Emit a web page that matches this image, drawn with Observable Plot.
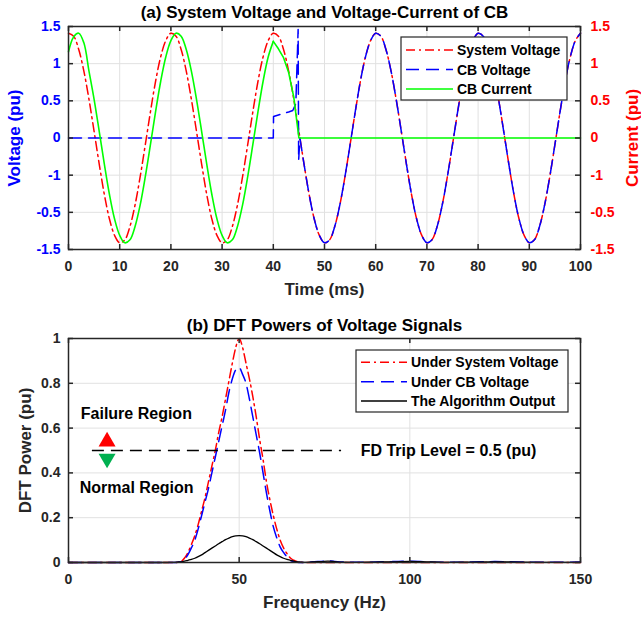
<!DOCTYPE html>
<html><head><meta charset="utf-8">
<script src="https://cdn.jsdelivr.net/npm/d3@7"></script>
<script src="https://cdn.jsdelivr.net/npm/@observablehq/plot@0.6"></script>
<style>
html,body{margin:0;padding:0;background:#fff;}
#chart{position:relative;width:641px;height:618px;overflow:hidden;background:#fff;}
#chart svg{position:absolute;left:0;}
</style></head><body><div id="chart"></div>
<script>
// ---------------- Panel (a) data ----------------
const titleA = "(a) System Voltage and Voltage-Current of CB";
const xLabelA = "Time (ms)";
const yLabelLeftA = "Voltage (pu)";
const yLabelRightA = "Current (pu)";
const xTicksA = [0, 10, 20, 30, 40, 50, 60, 70, 80, 90, 100];
const yTicksA = [1.5, 1, 0.5, 0, -0.5, -1, -1.5];
const yTickLabelsA = ["1.5", "1", "0.5", "0", "-1", "-0.5", "-1.5"];

const timeMs = d3.range(0, 101, 1);
const systemVoltage = [
  1.41,1.37,1.19,0.90,0.52,0.09,-0.35,-0.76,-1.09,-1.31,-1.41,-1.37,-1.19,-0.90,-0.52,-0.09,0.35,0.76,1.09,1.31,
  1.41,1.37,1.19,0.90,0.52,0.09,-0.35,-0.76,-1.09,-1.31,-1.41,-1.37,-1.19,-0.90,-0.52,-0.09,0.35,0.76,1.09,1.31,
  1.41,1.37,1.19,0.90,0.52,0.09,-0.35,-0.76,-1.09,-1.31,-1.41,-1.37,-1.19,-0.90,-0.52,-0.09,0.35,0.76,1.09,1.31,
  1.41,1.37,1.19,0.90,0.52,0.09,-0.35,-0.76,-1.09,-1.31,-1.41,-1.37,-1.19,-0.90,-0.52,-0.09,0.35,0.76,1.09,1.31,
  1.41,1.37,1.19,0.90,0.52,0.09,-0.35,-0.76,-1.09,-1.31,-1.41,-1.37,-1.19,-0.90,-0.52,-0.09,0.35,0.76,1.09,1.31,
  1.41
];

const cbVoltageTime = [0, 40, 40.05, 41, 42, 43, 43.8, 44.4, 44.85, 44.95, 45.2].concat(d3.range(46, 101, 1));
const cbVoltage = [
  0, 0, 0.29, 0.31, 0.33, 0.35, 0.37, 0.46, 1.46, -0.30, 0.0,
  -0.35,-0.76,-1.09,-1.31,-1.41,-1.37,-1.19,-0.90,-0.52,-0.09,0.35,0.76,1.09,1.31,
  1.41,1.37,1.19,0.90,0.52,0.09,-0.35,-0.76,-1.09,-1.31,-1.41,-1.37,-1.19,-0.90,-0.52,-0.09,0.35,0.76,1.09,1.31,
  1.41,1.37,1.19,0.90,0.52,0.09,-0.35,-0.76,-1.09,-1.31,-1.41,-1.37,-1.19,-0.90,-0.52,-0.09,0.35,0.76,1.09,1.31,
  1.41
];

const cbCurrentTime = d3.range(0, 41, 1).concat([41, 42, 43, 44, 44.6, 45, 100]);
const cbCurrent = [
  1.16,1.36,1.41,1.28,0.90,0.52,0.09,-0.35,-0.76,-1.09,-1.31,-1.41,-1.37,-1.19,-0.90,-0.52,-0.09,0.35,0.76,1.09,
  1.31,1.41,1.37,1.19,0.90,0.52,0.09,-0.35,-0.76,-1.09,-1.31,-1.41,-1.37,-1.19,-0.90,-0.52,-0.09,0.35,0.76,1.09,
  1.30, 1.20, 1.08, 0.88, 0.55, 0.22, 0, 0
];
const legendLabelsA = ["System Voltage", "CB Voltage", "CB Current"];

// ---------------- Panel (b) data ----------------
const titleB = "(b) DFT Powers of Voltage Signals";
const xLabelB = "Frequency (Hz)";
const yLabelB = "DFT Power (pu)";
const xTicksB = [0, 50, 100, 150];
const yTicksB = [0, 0.2, 0.4, 0.6, 0.8, 1];

const freqHz = [0,
  28,29,30,31,32,33,34,35,36,37,38,39,40,41,42,43,44,45,46,47,48,49,50,
  51,52,53,54,55,56,57,58,59,60,61,62,63,64,65,66,67,68,69,70,71,72,
  74,76,78,80,85,90,95,100,105,110,118,125,132,140,150];
const underSystemVoltage = [0,
  0,0,0,0,0.001,0.005,0.02,0.045,0.08,0.12,0.17,0.23,0.29,0.36,0.43,0.50,0.58,0.65,0.73,0.81,0.89,0.96,1.0,
  0.96,0.89,0.82,0.74,0.65,0.55,0.46,0.36,0.28,0.21,0.15,0.10,0.065,0.04,0.02,0.01,0.004,0.001,0,0,0,0,
  0,0,0,0,0,0,0,0,0,0,0,0,0,0,0];
const underCBVoltage = [0,
  0,0,0,0,0.001,0.004,0.015,0.035,0.065,0.10,0.15,0.21,0.27,0.33,0.40,0.47,0.54,0.61,0.68,0.76,0.82,0.86,0.87,
  0.84,0.80,0.73,0.65,0.57,0.49,0.40,0.31,0.23,0.16,0.11,0.07,0.045,0.025,0.01,0.004,0.001,0,0,0.001,0.002,0.003,
  0.005,0.007,0.005,0.002,0.001,0.002,0.004,0.006,0.003,0.001,0.002,0.004,0.002,0.001,0.002];
const algorithmOutput = [0,
  0,0,0.001,0.001,0.002,0.003,0.006,0.01,0.014,0.019,0.026,0.034,0.044,0.054,0.064,0.074,0.084,0.093,0.102,0.109,0.115,0.119,0.12,
  0.119,0.115,0.109,0.102,0.093,0.084,0.074,0.064,0.054,0.044,0.034,0.026,0.019,0.014,0.01,0.006,0.003,0.002,0.001,0.001,0.002,0.003,
  0.004,0.006,0.004,0.002,0.001,0.002,0.003,0.005,0.003,0.001,0.002,0.003,0.002,0.001,0.001];
const legendLabelsB = ["Under System Voltage", "Under CB Voltage", "The Algorithm Output"];

const tripLevel = 0.5;
const tripLineFrom = 7, tripLineTo = 80;
const tripLabel = "FD Trip Level = 0.5 (pu)";
const tripLabelAt = 85.6;
const regionNotes = [
  {label: "Failure Region", f: 3.6, p: 0.662},
  {label: "Normal Region", f: 3.3, p: 0.335}
];
const arrowUp = [{f: 11.3, p: 0.54}];
const arrowDown = [{f: 11.3, p: 0.464}];

// ---------------- styles ----------------
const fontFamily = '"Liberation Sans", Arial, Helvetica, sans-serif';
const ink = "#262626";
const gridColor = "#e1e1e1";
const RED = "#ff0000", BLUE = "#0000ff", GREEN = "#00ff00";
const dashDot = "9,4,2,4", dashed = "13,7";

const chart = document.getElementById("chart");

// ---------------- Panel (a) ----------------
const sysData = timeMs.map((t, i) => ({t, v: systemVoltage[i]}));
const cbvData = cbVoltageTime.map((t, i) => ({t, v: cbVoltage[i]}));
const curData = cbCurrentTime.map((t, i) => ({t, v: cbCurrent[i]}));

const hA = 300, mTA = 26, mBA = 51;
const frameHA = hA - mTA - mBA, frameW = 641 - 68 - 61;
const centered = {textAnchor: "middle", lineAnchor: "middle"};

const plotA = Plot.plot({
  width: 641, height: hA,
  marginLeft: 68, marginRight: 61, marginTop: mTA, marginBottom: mBA,
  style: {fontFamily, fontWeight: "bold", background: "transparent", overflow: "visible"},
  x: {domain: [0, 100]},
  y: {domain: [-1.5, 1.5]},
  marks: [
    Plot.gridX(xTicksA, {stroke: gridColor, strokeOpacity: 1}),
    Plot.gridY(yTicksA, {stroke: gridColor, strokeOpacity: 1}),
    Plot.line(sysData, {x: "t", y: "v", stroke: RED, strokeWidth: 1.5, strokeDasharray: dashDot, curve: "catmull-rom"}),
    Plot.line(cbvData.filter(d => d.t <= 45.2), {x: "t", y: "v", stroke: BLUE, strokeWidth: 1.5, strokeDasharray: dashed}),
    Plot.line(cbvData.filter(d => d.t >= 45.2), {x: "t", y: "v", stroke: BLUE, strokeWidth: 1.5, strokeDasharray: dashed, curve: "catmull-rom"}),
    Plot.line(curData.filter(d => d.t <= 40), {x: "t", y: "v", stroke: GREEN, strokeWidth: 1.6, curve: "catmull-rom"}),
    Plot.line(curData.filter(d => d.t >= 40), {x: "t", y: "v", stroke: GREEN, strokeWidth: 1.6}),
    Plot.frame({stroke: ink, strokeWidth: 1.5}),
    Plot.tickX(xTicksA, {x: d => d, stroke: ink, strokeWidth: 1.5, insetTop: frameHA - 5}),
    Plot.tickX(xTicksA, {x: d => d, stroke: ink, strokeWidth: 1.5, insetBottom: frameHA - 5}),
    Plot.tickY(yTicksA, {y: d => d, stroke: ink, strokeWidth: 1.5, insetRight: frameW - 5}),
    Plot.tickY(yTicksA, {y: d => d, stroke: ink, strokeWidth: 1.5, insetLeft: frameW - 5}),
    Plot.axisX(xTicksA, {anchor: "bottom", tickSize: 0, tickPadding: 12, fontSize: 14, color: ink, label: null}),
    Plot.axisY(yTicksA, {anchor: "left", tickSize: 0, tickPadding: 8, fontSize: 14, color: BLUE, label: null,
      tickFormat: d => yTickLabelsA[yTicksA.indexOf(d)]}),
    Plot.axisY(yTicksA, {anchor: "right", tickSize: 0, tickPadding: 10, fontSize: 14, color: RED, label: null,
      tickFormat: d => yTickLabelsA[yTicksA.indexOf(d)]}),
    Plot.text([titleA], {...centered, text: d => d, frameAnchor: "top", dy: -14, fontSize: 17, fill: "#000"}),
    Plot.text([xLabelA], {...centered, text: d => d, frameAnchor: "bottom", dy: 40, fontSize: 17, fill: ink}),
    Plot.text([yLabelLeftA], {...centered, text: d => d, frameAnchor: "left", dx: -54, rotate: -90, fontSize: 17, fill: BLUE}),
    Plot.text([yLabelRightA], {...centered, text: d => d, frameAnchor: "right", dx: 52, rotate: -90, fontSize: 17, fill: RED})
  ]
});
plotA.style.top = "0px";
chart.appendChild(plotA);

// ---------------- Panel (b) ----------------
const specData = freqHz.map((f, i) => ({f, sys: underSystemVoltage[i], cb: underCBVoltage[i], alg: algorithmOutput[i]}));
const hB = 318, mTB = 38, mBB = 56;
const frameHB = hB - mTB - mBB;

const triangleDown = {
  draw(context, size) {
    const y = Math.sqrt(size / (3 * Math.sqrt(3)));
    context.moveTo(0, 2 * y);
    context.lineTo(-Math.sqrt(3) * y, -y);
    context.lineTo(Math.sqrt(3) * y, -y);
    context.closePath();
  }
};

const plotB = Plot.plot({
  width: 641, height: hB,
  marginLeft: 68, marginRight: 61, marginTop: mTB, marginBottom: mBB,
  style: {fontFamily, fontWeight: "bold", background: "transparent", overflow: "visible"},
  x: {domain: [0, 150]},
  y: {domain: [0, 1]},
  marks: [
    Plot.gridX(xTicksB, {stroke: gridColor, strokeOpacity: 1}),
    Plot.gridY(yTicksB, {stroke: gridColor, strokeOpacity: 1}),
    Plot.line(specData, {x: "f", y: "sys", stroke: RED, strokeWidth: 1.5, strokeDasharray: dashDot, curve: "monotone-x"}),
    Plot.line(specData, {x: "f", y: "cb", stroke: BLUE, strokeWidth: 1.5, strokeDasharray: dashed, curve: "monotone-x"}),
    Plot.line(specData, {x: "f", y: "alg", stroke: "#000", strokeWidth: 1.3, curve: "monotone-x"}),
    Plot.ruleY([tripLevel], {x1: tripLineFrom, x2: tripLineTo, stroke: "#000", strokeWidth: 1.4, strokeDasharray: "12,7"}),
    Plot.text([tripLabel], {text: d => d, x: tripLabelAt, y: tripLevel, textAnchor: "start", fontSize: 16, fill: "#000"}),
    Plot.text(regionNotes, {text: "label", x: "f", y: "p", textAnchor: "start", fontSize: 16, fill: "#000"}),
    Plot.dot(arrowUp, {x: "f", y: "p", symbol: "triangle", r: 6.3, fill: "#ff0000", stroke: "none"}),
    Plot.dot(arrowDown, {x: "f", y: "p", symbol: triangleDown, r: 6.3, fill: "#00b050", stroke: "none"}),
    Plot.frame({stroke: ink, strokeWidth: 1.5}),
    Plot.tickX(xTicksB, {x: d => d, stroke: ink, strokeWidth: 1.5, insetTop: frameHB - 5}),
    Plot.tickX(xTicksB, {x: d => d, stroke: ink, strokeWidth: 1.5, insetBottom: frameHB - 5}),
    Plot.tickY(yTicksB, {y: d => d, stroke: ink, strokeWidth: 1.5, insetRight: frameW - 5}),
    Plot.tickY(yTicksB, {y: d => d, stroke: ink, strokeWidth: 1.5, insetLeft: frameW - 5}),
    Plot.axisX(xTicksB, {anchor: "bottom", tickSize: 0, tickPadding: 12, fontSize: 14, color: ink, label: null}),
    Plot.axisY(yTicksB, {anchor: "left", tickSize: 0, tickPadding: 8, fontSize: 14, color: ink, label: null, tickFormat: d => String(d)}),
    Plot.text([titleB], {...centered, text: d => d, frameAnchor: "top", dy: -13, fontSize: 17, fill: "#000"}),
    Plot.text([xLabelB], {...centered, text: d => d, frameAnchor: "bottom", dy: 40, fontSize: 17, fill: ink}),
    Plot.text([yLabelB], {...centered, text: d => d, frameAnchor: "left", dx: -43, rotate: -90, fontSize: 17, fill: ink})
  ]
});
plotB.style.top = "300px";
chart.appendChild(plotB);

// ---------------- Legends (overlay) ----------------
const overlay = d3.create("svg")
  .attr("width", 641).attr("height", 618)
  .style("top", "0px")
  .style("font-family", fontFamily).style("font-weight", "bold");

function legend(box, rows, labels, styles) {
  overlay.append("rect").attr("x", box.x).attr("y", box.y).attr("width", box.w).attr("height", box.h)
    .attr("fill", "#fff").attr("stroke", ink).attr("stroke-width", 1.2);
  labels.forEach((lab, i) => {
    const y = rows[i];
    overlay.append("line").attr("x1", box.x + 5).attr("x2", box.x + box.lineLen + 5)
      .attr("y1", y).attr("y2", y)
      .attr("stroke", styles[i].stroke).attr("stroke-width", 1.5)
      .attr("stroke-dasharray", styles[i].dash || null);
    overlay.append("text").attr("x", box.x + box.lineLen + 9).attr("y", y + 5)
      .attr("font-size", 14).attr("fill", "#000").text(lab);
  });
}
legend({x: 401, y: 37, w: 166, h: 63, lineLen: 47}, [50, 69.5, 89], legendLabelsA,
  [{stroke: RED, dash: dashDot}, {stroke: BLUE, dash: dashed}, {stroke: GREEN}]);
legend({x: 356, y: 350, w: 212, h: 62, lineLen: 46}, [362.3, 381.7, 401], legendLabelsB,
  [{stroke: RED, dash: dashDot}, {stroke: BLUE, dash: dashed}, {stroke: "#000"}]);
chart.appendChild(overlay.node());
</script></body></html>
